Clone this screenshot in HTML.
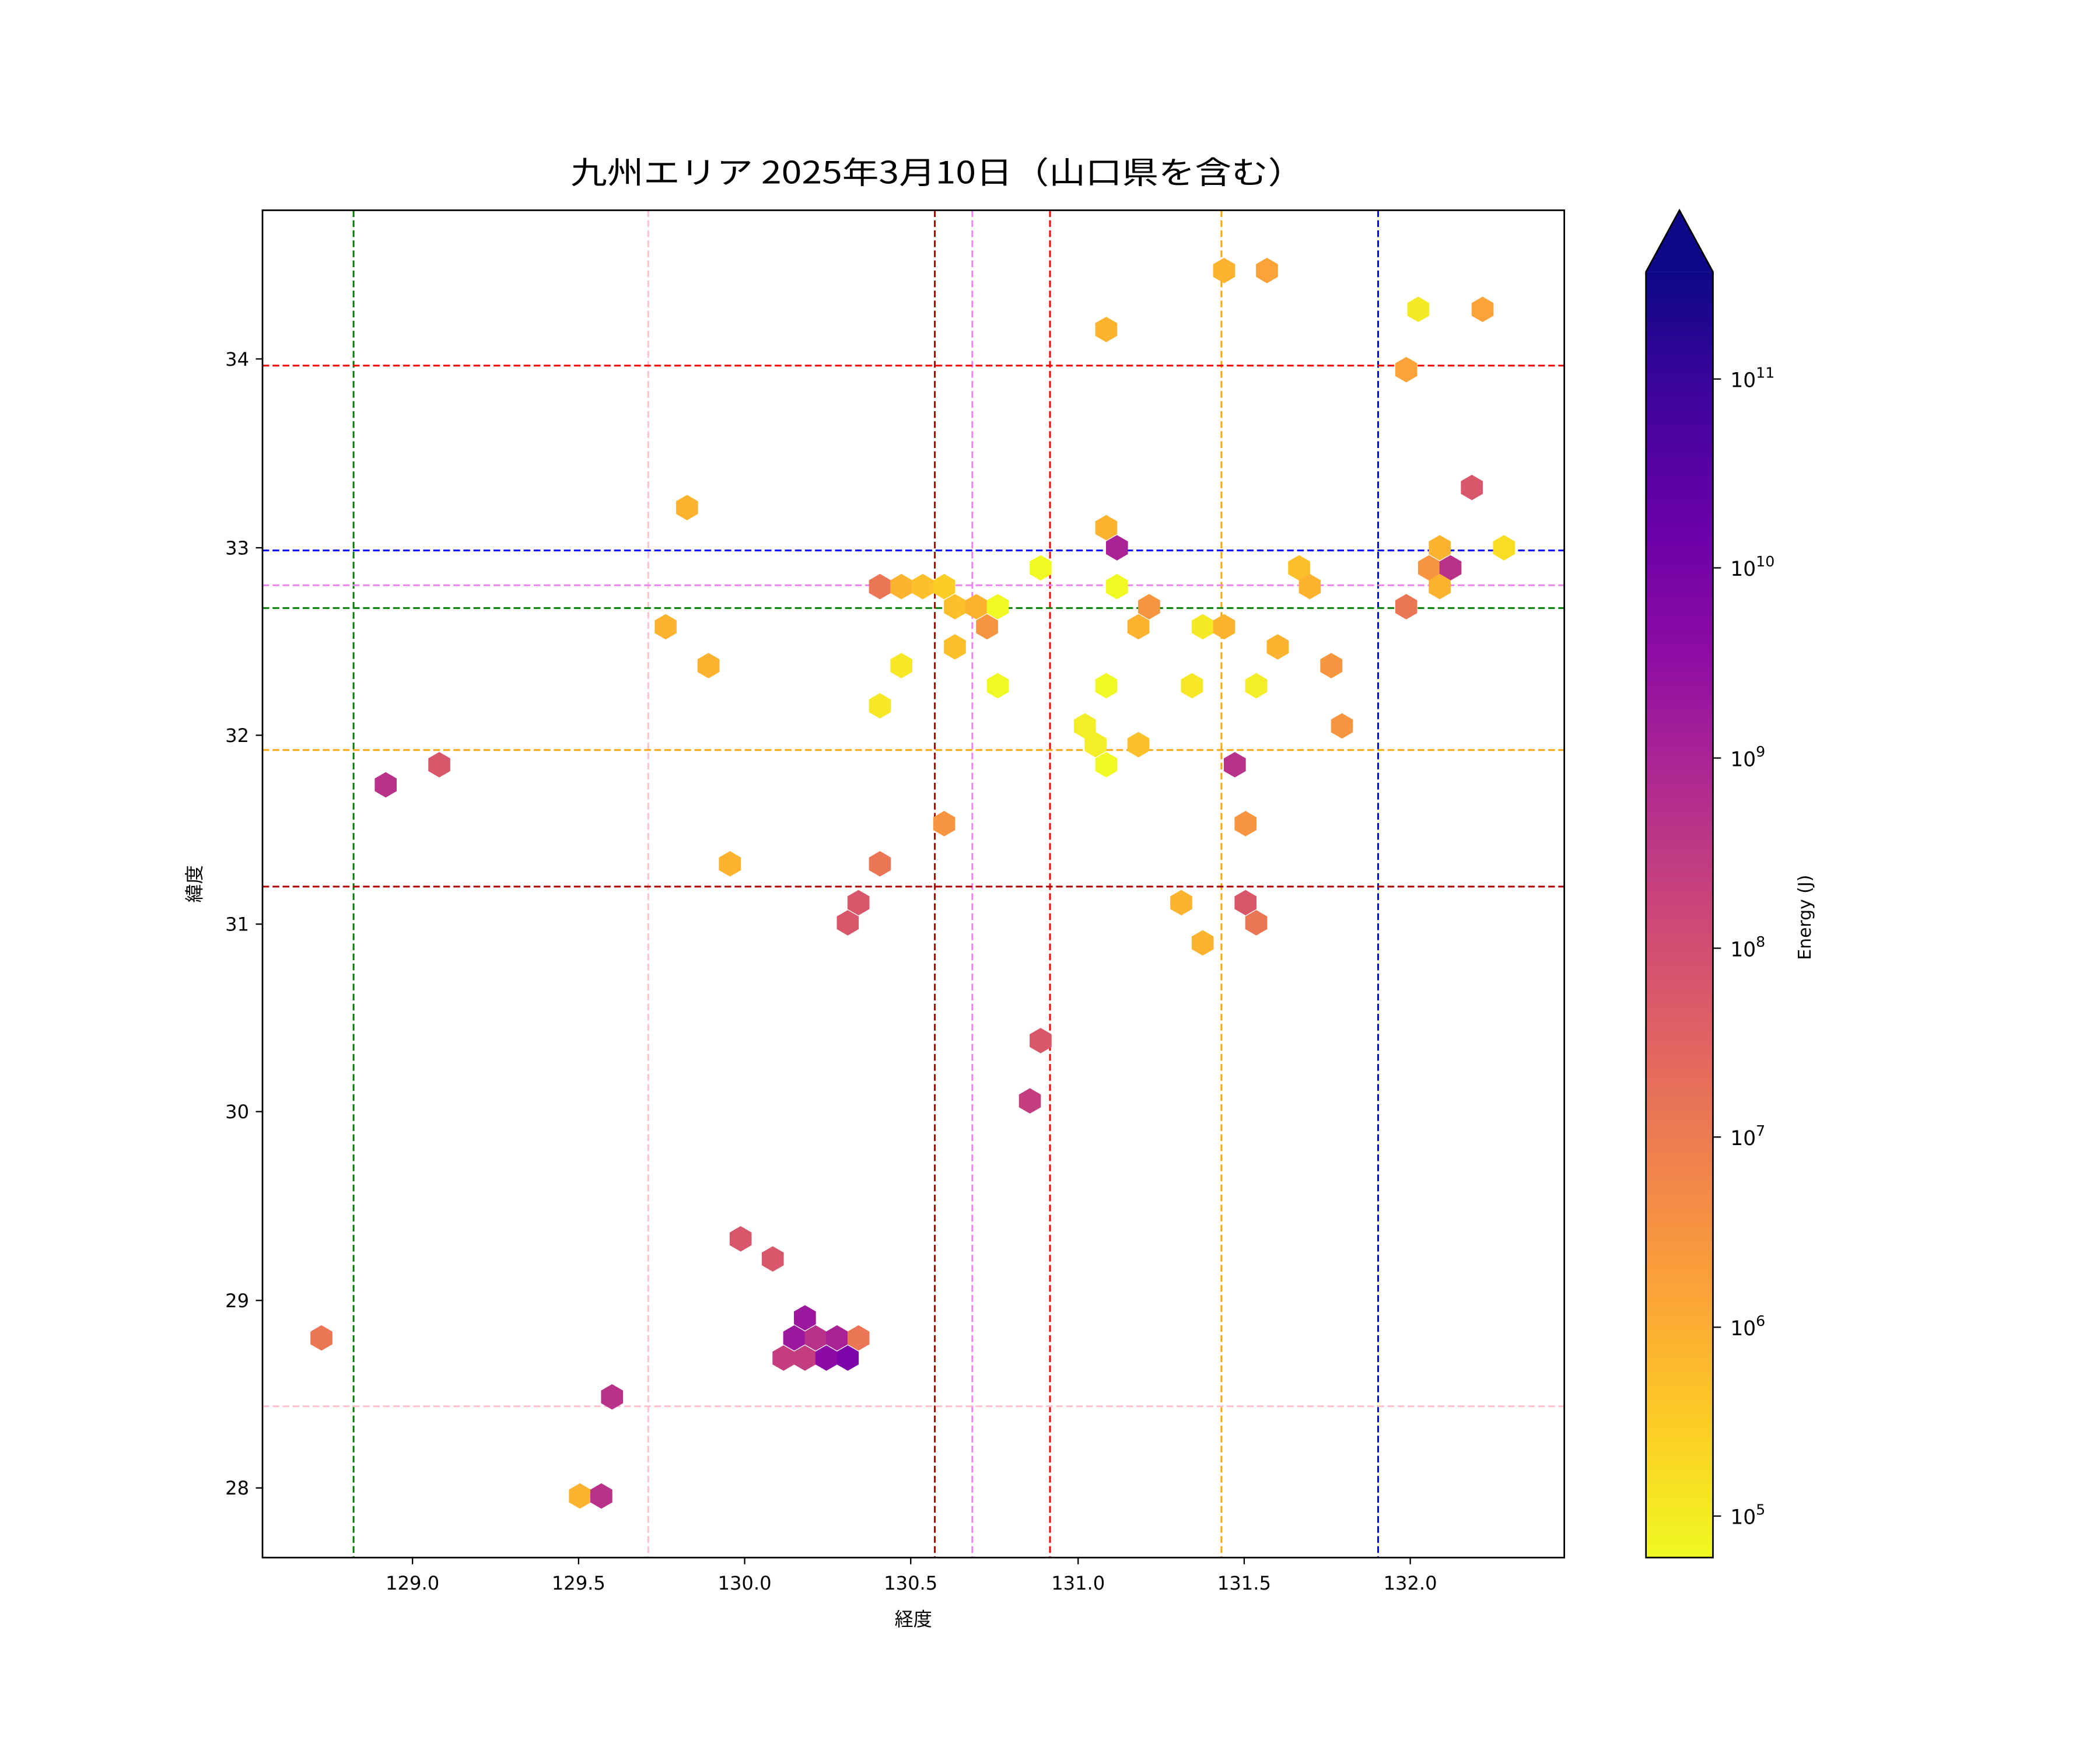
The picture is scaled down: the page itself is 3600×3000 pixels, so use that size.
<!DOCTYPE html>
<html><head><meta charset="utf-8"><style>html,body{margin:0;padding:0;background:#fff}svg{display:block}text{font-family:"DejaVu Sans","Noto Sans CJK JP",sans-serif;fill:#000}</style></head><body>
<svg xmlns="http://www.w3.org/2000/svg" width="3600" height="3000" viewBox="0 0 1568 1306.67">
<defs>
<linearGradient id="pl" x1="0" y1="1" x2="0" y2="0">
<stop offset="0" stop-color="#f0f921"/><stop offset="0.1" stop-color="#fcce25"/><stop offset="0.2" stop-color="#fca636"/><stop offset="0.3" stop-color="#f2844b"/><stop offset="0.4" stop-color="#e16462"/><stop offset="0.5" stop-color="#cc4778"/><stop offset="0.6" stop-color="#b12a90"/><stop offset="0.7" stop-color="#8f0da4"/><stop offset="0.8" stop-color="#6a00a8"/><stop offset="0.9" stop-color="#41049d"/><stop offset="1" stop-color="#0d0887"/>
</linearGradient>
<path id="h" d="M0,-9.5 L8.2,-4.75 L8.2,4.75 L0,9.5 L-8.2,4.75 L-8.2,-4.75Z"/>
</defs>
<rect width="1568" height="1306.67" fill="#fff"/>
<text x="700" y="137" font-size="23" text-anchor="middle" textLength="548" lengthAdjust="spacingAndGlyphs" style="font-family:'Noto Sans CJK JP','DejaVu Sans',sans-serif">九州エリア 2025年3月10日（山口県を含む）</text>
<g stroke-width="1.3" stroke-dasharray="5,2.5" fill="none">
<line x1="264" y1="157" x2="264" y2="1163" stroke="green"/>
<line x1="484" y1="157" x2="484" y2="1163" stroke="pink"/>
<line x1="698" y1="157" x2="698" y2="1163" stroke="#b00000"/>
<line x1="726" y1="157" x2="726" y2="1163" stroke="violet"/>
<line x1="784" y1="157" x2="784" y2="1163" stroke="red"/>
<line x1="912" y1="157" x2="912" y2="1163" stroke="orange"/>
<line x1="1029" y1="157" x2="1029" y2="1163" stroke="blue"/>
<line x1="196" y1="273" x2="1168" y2="273" stroke="red"/>
<line x1="196" y1="411" x2="1168" y2="411" stroke="blue"/>
<line x1="196" y1="437" x2="1168" y2="437" stroke="violet"/>
<line x1="196" y1="454" x2="1168" y2="454" stroke="green"/>
<line x1="196" y1="560" x2="1168" y2="560" stroke="orange"/>
<line x1="196" y1="662" x2="1168" y2="662" stroke="#b00000"/>
<line x1="196" y1="1050" x2="1168" y2="1050" stroke="pink"/>
</g>
<g>
<use href="#h" x="914" y="202" fill="#fdb32f"/><use href="#h" x="946" y="202" fill="#fba238"/><use href="#h" x="826" y="246" fill="#fdb32f"/><use href="#h" x="1059" y="231" fill="#f3e925"/><use href="#h" x="1107" y="231" fill="#fba238"/><use href="#h" x="1050" y="276" fill="#fba238"/><use href="#h" x="1099" y="364" fill="#d8576b"/><use href="#h" x="513" y="379" fill="#fdb32f"/><use href="#h" x="826" y="394" fill="#fdb32f"/><use href="#h" x="834" y="409" fill="#a82296"/><use href="#h" x="1075" y="409" fill="#fdb32f"/><use href="#h" x="1123" y="409" fill="#f9dd25"/><use href="#h" x="1067" y="424" fill="#f89540"/><use href="#h" x="1083" y="424" fill="#b83289"/><use href="#h" x="777" y="424" fill="#f0f921"/><use href="#h" x="1075" y="438" fill="#fdb32f"/><use href="#h" x="657" y="438" fill="#eb7655"/><use href="#h" x="673" y="438" fill="#fdb32f"/><use href="#h" x="689" y="438" fill="#fdc02a"/><use href="#h" x="705" y="438" fill="#fcce25"/><use href="#h" x="834" y="438" fill="#f0f921"/><use href="#h" x="970" y="424" fill="#fdc02a"/><use href="#h" x="978" y="438" fill="#fdb32f"/><use href="#h" x="713" y="453" fill="#fdc02a"/><use href="#h" x="729" y="453" fill="#fdb32f"/><use href="#h" x="745" y="453" fill="#f0f921"/><use href="#h" x="858" y="453" fill="#f89540"/><use href="#h" x="1050" y="453" fill="#eb7655"/><use href="#h" x="497" y="468" fill="#fdb32f"/><use href="#h" x="737" y="468" fill="#f89540"/><use href="#h" x="850" y="468" fill="#fdb32f"/><use href="#h" x="898" y="468" fill="#f3e925"/><use href="#h" x="914" y="468" fill="#fdb32f"/><use href="#h" x="713" y="483" fill="#fdc02a"/><use href="#h" x="954" y="483" fill="#fdb32f"/><use href="#h" x="529" y="497" fill="#fdb32f"/><use href="#h" x="673" y="497" fill="#f6e826"/><use href="#h" x="994" y="497" fill="#f89540"/><use href="#h" x="745" y="512" fill="#f0f921"/><use href="#h" x="826" y="512" fill="#f0f921"/><use href="#h" x="890" y="512" fill="#f6e826"/><use href="#h" x="938" y="512" fill="#f3ee27"/><use href="#h" x="657" y="527" fill="#f6e826"/><use href="#h" x="810" y="542" fill="#f3ee27"/><use href="#h" x="1002" y="542" fill="#f89540"/><use href="#h" x="818" y="556" fill="#f3ee27"/><use href="#h" x="850" y="556" fill="#fdc02a"/><use href="#h" x="826" y="571" fill="#f0f921"/><use href="#h" x="922" y="571" fill="#b83289"/><use href="#h" x="288" y="586" fill="#b83289"/><use href="#h" x="328" y="571" fill="#d8576b"/><use href="#h" x="705" y="615" fill="#f89540"/><use href="#h" x="930" y="615" fill="#f89540"/><use href="#h" x="545" y="645" fill="#fdb32f"/><use href="#h" x="657" y="645" fill="#eb7655"/><use href="#h" x="641" y="674" fill="#d8576b"/><use href="#h" x="633" y="689" fill="#d8576b"/><use href="#h" x="882" y="674" fill="#fdb32f"/><use href="#h" x="930" y="674" fill="#d8576b"/><use href="#h" x="938" y="689" fill="#eb7655"/><use href="#h" x="898" y="704" fill="#fdb32f"/><use href="#h" x="777" y="777" fill="#d8576b"/><use href="#h" x="769" y="822" fill="#c43e7f"/><use href="#h" x="553" y="925" fill="#d8576b"/><use href="#h" x="577" y="940" fill="#d8576b"/><use href="#h" x="601" y="984" fill="#9c179e"/><use href="#h" x="593" y="999" fill="#9c179e"/><use href="#h" x="609" y="999" fill="#b83289"/><use href="#h" x="625" y="999" fill="#a82296"/><use href="#h" x="641" y="999" fill="#eb7655"/><use href="#h" x="585" y="1014" fill="#c43e7f"/><use href="#h" x="601" y="1014" fill="#c43e7f"/><use href="#h" x="617" y="1014" fill="#8b0aa5"/><use href="#h" x="633" y="1014" fill="#7e03a8"/><use href="#h" x="240" y="999" fill="#eb7655"/><use href="#h" x="457" y="1043" fill="#b83289"/><use href="#h" x="433" y="1117" fill="#fdb32f"/><use href="#h" x="449" y="1117" fill="#b83289"/>
</g>
<rect x="196" y="157" width="972" height="1006" fill="none" stroke="#000" stroke-width="1.2"/>
<g stroke="#000" stroke-width="1">
<line x1="308" y1="1163" x2="308" y2="1168"/><line x1="432" y1="1163" x2="432" y2="1168"/><line x1="556" y1="1163" x2="556" y2="1168"/><line x1="680" y1="1163" x2="680" y2="1168"/><line x1="805" y1="1163" x2="805" y2="1168"/><line x1="929" y1="1163" x2="929" y2="1168"/><line x1="1053" y1="1163" x2="1053" y2="1168"/>
<line x1="191" y1="268" x2="196" y2="268"/><line x1="191" y1="409" x2="196" y2="409"/><line x1="191" y1="549" x2="196" y2="549"/><line x1="191" y1="690" x2="196" y2="690"/><line x1="191" y1="830" x2="196" y2="830"/><line x1="191" y1="971" x2="196" y2="971"/><line x1="191" y1="1111" x2="196" y2="1111"/>
</g>
<g font-size="14" text-anchor="middle">
<text x="308" y="1187">129.0</text><text x="432" y="1187">129.5</text><text x="556" y="1187">130.0</text><text x="680" y="1187">130.5</text><text x="805" y="1187">131.0</text><text x="929" y="1187">131.5</text><text x="1053" y="1187">132.0</text>
</g>
<g font-size="14" text-anchor="end">
<text x="186" y="273">34</text><text x="186" y="414">33</text><text x="186" y="554">32</text><text x="186" y="695">31</text><text x="186" y="835">30</text><text x="186" y="976">29</text><text x="186" y="1116">28</text>
</g>
<text x="682" y="1214" font-size="14" text-anchor="middle">経度</text>
<text x="0" y="0" font-size="14" text-anchor="middle" transform="translate(150,660) rotate(-90)">緯度</text>
<rect x="1229" y="203" width="50" height="960" fill="url(#pl)"/>
<polygon points="1229,203 1254,157 1279,203" fill="#0d0887"/>
<polygon points="1229,1163 1229,203 1254,157 1279,203 1279,1163" fill="none" stroke="#000" stroke-width="1.2"/>
<g stroke="#000" stroke-width="1">
<line x1="1279" y1="283" x2="1285" y2="283"/><line x1="1279" y1="424" x2="1285" y2="424"/><line x1="1279" y1="566" x2="1285" y2="566"/><line x1="1279" y1="708" x2="1285" y2="708"/><line x1="1279" y1="849" x2="1285" y2="849"/><line x1="1279" y1="991" x2="1285" y2="991"/><line x1="1279" y1="1132" x2="1285" y2="1132"/>
</g>
<g font-size="15">
<text x="1292" y="289">10<tspan font-size="11" dy="-7">11</tspan></text>
<text x="1292" y="430">10<tspan font-size="11" dy="-7">10</tspan></text>
<text x="1292" y="572">10<tspan font-size="11" dy="-7">9</tspan></text>
<text x="1292" y="714">10<tspan font-size="11" dy="-7">8</tspan></text>
<text x="1292" y="855">10<tspan font-size="11" dy="-7">7</tspan></text>
<text x="1292" y="997">10<tspan font-size="11" dy="-7">6</tspan></text>
<text x="1292" y="1138">10<tspan font-size="11" dy="-7">5</tspan></text>
</g>
<text x="0" y="0" font-size="13" text-anchor="middle" transform="translate(1352,685) rotate(-90)">Energy (J)</text>
</svg>
</body></html>
